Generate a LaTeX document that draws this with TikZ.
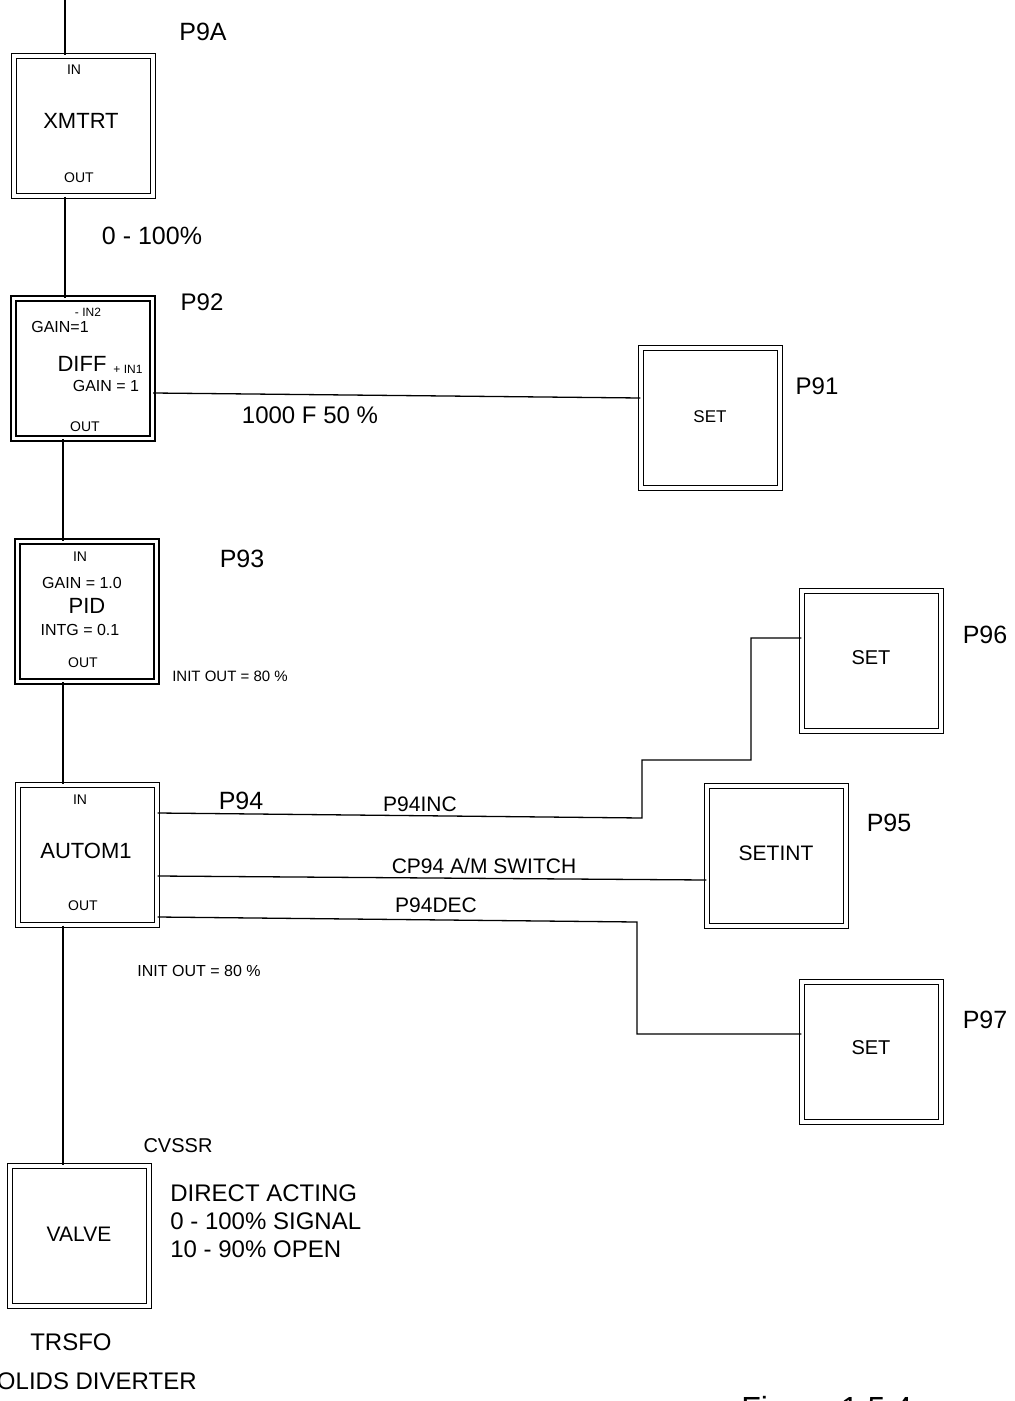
\documentclass[tikz,border=0pt]{standalone}
\usepackage{fontspec}
\setmainfont{Liberation Sans}
\begin{document}
\begin{tikzpicture}[x=0.5pt, y=-0.5pt,
    blk/.style={draw, double, line width=0.7pt, double distance=1.7pt,
        minimum width=69.5pt, minimum height=70pt, inner sep=0pt},
    wire/.style={line width=0.65pt},
    tag/.style={inner sep=0pt, font=\fontsize{12.5}{15}\selectfont},
    title/.style={inner sep=0pt, font=\fontsize{11}{13}\selectfont},
    mid/.style={inner sep=0pt, font=\fontsize{10.5}{12}\selectfont},
    note/.style={inner sep=0pt, font=\fontsize{8}{9.5}\selectfont},
    port/.style={inner sep=0pt, font=\fontsize{7}{8}\selectfont}]

        \useasboundingbox (0,0) rectangle (1014,1401);

        \node[blk] (xmtrt) at (83.5,126) {};
        \node[blk] (diff) at (83,368.5) {};
        \node[blk] (pid) at (87,611.5) {};
        \node[blk] (autom) at (87.5,855) {};
        \node[blk] (valve) at (79.5,1236) {};
        \node[blk] (setA) at (710.5,418) {};
        \node[blk] (setB) at (871.5,661) {};
        \node[blk] (setint) at (776.5,856) {};
        \node[blk] (setC) at (871.5,1052) {};

        \node[port] (xmtrtin) at (74,70) {IN};
        \node[title] (xmtrtname) at (81,121) {XMTRT};
        \node[port] (xmtrtout) at (79,178) {OUT};
        \node[tag] (tagA) at (203,32) {P9A};

        \node[port, font=\fontsize{6}{7}\selectfont] (diffin2) at (88,312) {- IN2};
        \node[note] (gaintwo) at (60,327) {GAIN=1};
        \node[title] (diffname) at (82,364) {DIFF};
        \node[port, font=\fontsize{6}{7}\selectfont] (diffin1) at (128,369) {+ IN1};
        \node[note] (gainone) at (106,386) {GAIN = 1};
        \node[port] (diffout) at (85,427) {OUT};
        \node[tag, font=\fontsize{12}{14}\selectfont] (tag92) at (202,302) {P92};

        \node[port] (pidin) at (80,557) {IN};
        \node[note] (pidgain) at (82,583) {GAIN = 1.0};
        \node[title] (pidname) at (87,606) {PID};
        \node[note] (pidintg) at (80,630) {INTG = 0.1};
        \node[port] (pidout) at (83,663) {OUT};
        \node[tag] (tag93) at (242,559) {P93};
        \node[note, font=\fontsize{7.5}{9}\selectfont] (pidinit) at (230,676) {INIT OUT = 80 \%};

        \node[port] (automin) at (80,800) {IN};
        \node[title] (automname) at (86,851) {AUTOM1};
        \node[port] (automout) at (83,906) {OUT};
        \node[tag] (tag94) at (241,801) {P94};
        \node[note] (autominit) at (199,971) {INIT OUT = 80 \%};

        \node[mid, font=\fontsize{8.5}{10}\selectfont] (setAname) at (710,417) {SET};
        \node[tag, font=\fontsize{12}{14}\selectfont] (tag91) at (817,386) {P91};
        \node[mid, font=\fontsize{10}{12}\selectfont] (setBname) at (871,658) {SET};
        \node[tag] (tag96) at (985,635) {P96};
        \node[mid] (setintname) at (776,853) {SETINT};
        \node[tag] (tag95) at (889,823) {P95};
        \node[mid, font=\fontsize{10}{12}\selectfont] (setCname) at (871,1048) {SET};
        \node[tag] (tag97) at (985,1020) {P97};

        \node[mid] (valvename) at (79,1234) {VALVE};
        \node[mid, font=\fontsize{10}{12}\selectfont] (cvssr) at (178,1146) {CVSSR};
        \node[tag, font=\fontsize{12}{14}\selectfont, anchor=west, align=left] (acting) at (170,1221) {DIRECT ACTING\\0 - 100\% SIGNAL\\10 - 90\% OPEN};
        \node[tag, font=\fontsize{12}{14}\selectfont] (trsfo) at (71,1342) {TRSFO};
        \node[tag, font=\fontsize{12}{14}\selectfont, anchor=base east] (diverter) at (197,1389) {SOLIDS DIVERTER};

        \node[tag] (range) at (152,236) {0 - 100\%};
        \node[tag, font=\fontsize{12}{14}\selectfont] (spval) at (310,415) {1000 F 50 \%};
        \node[mid] (incname) at (420,804) {P94INC};
        \node[mid] (swname) at (484,866) {CP94 A/M SWITCH};
        \node[mid] (decname) at (436,905) {P94DEC};

        \node[inner sep=0pt, font=\fontsize{16}{19}\selectfont, anchor=base west] (figname) at (741,1419) {Figure 1.5.4};

        \coordinate (top) at (65,0);
        \coordinate (bus) at (63,0);

        \draw[wire] (top) -- (top |- xmtrt.north);
        \draw[wire] (xmtrt.south -| top) -- (diff.north -| top);
        \draw[wire] (diff.south -| bus) -- (pid.north -| bus);
        \draw[wire] (pid.south -| bus) -- (autom.north -| bus);
        \draw[wire] (autom.south -| bus) -- (valve.north -| bus);

        \draw[wire] ([yshift=-12.25pt]diff.east) -- ([yshift=10pt]setA.west);
        \draw[wire] ([yshift=21pt]autom.east) -- (642,818) -- (642,760) -- (751,760) |- ([yshift=11.5pt]setB.west);
        \draw[wire] ([yshift=-10.5pt]autom.east) -- ([yshift=-12pt]setint.west);
        \draw[wire] ([yshift=-31pt]autom.east) -- (637,922) |- ([yshift=9pt]setC.west);

\end{tikzpicture}
\end{document}
